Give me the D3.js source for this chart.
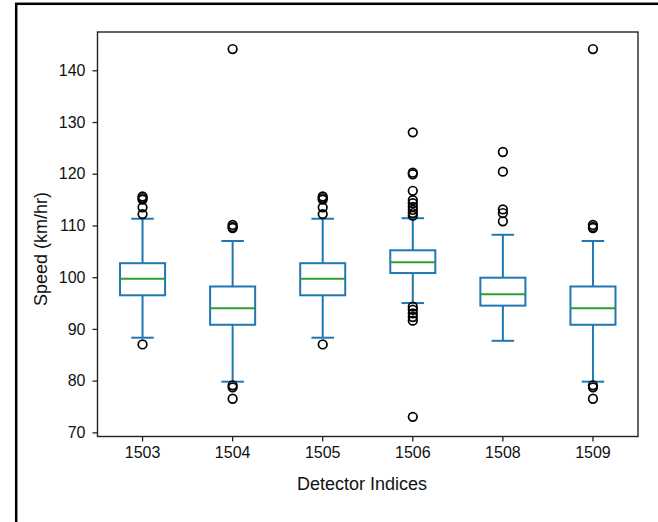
<!DOCTYPE html>
<html>
<head>
<meta charset="utf-8">
<script src="https://cdn.jsdelivr.net/npm/d3@7"></script>
<style>
  html, body { margin: 0; padding: 0; background: #fff; }
  svg { display: block; font-family: "Liberation Sans", Arial, Helvetica, sans-serif; }
</style>
</head>
<body>
<svg id="chart" width="658" height="522"></svg>
<script>
// ---- data ----
const categories = ["1503", "1504", "1505", "1506", "1508", "1509"];
const q1Values      = [96.5, 90.8, 96.5, 100.8, 94.5, 90.8];
const medianValues  = [99.7, 94.0, 99.7, 102.9, 96.7, 94.0];
const q3Values      = [102.7, 98.2, 102.7, 105.2, 99.9, 98.2];
const whiskerLow    = [88.3, 79.8, 88.3, 95.0, 87.7, 79.8];
const whiskerHigh   = [111.3, 107.0, 111.3, 111.4, 108.2, 107.0];
const outlierValues = [
  [115.6, 115.3, 115.0, 113.5, 112.2, 87.0],
  [144.1, 110.1, 109.7, 109.5, 79.1, 78.7, 76.5],
  [115.6, 115.3, 115.0, 113.5, 112.2, 87.0],
  [128.0, 120.2, 119.9, 116.7, 114.9, 114.3, 113.6, 113.0, 112.4, 111.9, 94.3, 93.7, 93.0, 92.3, 91.6, 73.0],
  [124.2, 120.4, 113.1, 112.4, 110.8],
  [144.1, 110.1, 109.7, 109.5, 79.1, 78.7, 76.5]
];
const yTicks = [70, 80, 90, 100, 110, 120, 130, 140];
const yDomain = [69.2, 147.4];
const xLabel = "Detector Indices";
const yLabel = "Speed (km/hr)";

// ---- layout ----
const plot = { left: 97.5, right: 638, top: 32, bottom: 436.5 };
const svg = d3.select("#chart");

// outer frame (extends past right/bottom edges)
svg.append("rect")
  .attr("x", 16.2).attr("y", 3.8)
  .attr("width", 700).attr("height", 600)
  .attr("fill", "none").attr("stroke", "#000").attr("stroke-width", 2.5);

const x = d3.scaleBand().domain(categories).range([plot.left, plot.right]).padding(0);
const y = d3.scaleLinear().domain(yDomain).range([plot.bottom, plot.top]);

const boxData = categories.map((c, i) => ({
  cat: c, q1: q1Values[i], med: medianValues[i], q3: q3Values[i],
  lo: whiskerLow[i], hi: whiskerHigh[i], out: outlierValues[i]
}));

const bw = x.bandwidth();
const boxW = bw * 0.5;
const capW = boxW * 0.5;
const blue = "#1f77b4", green = "#2ca02c";

const g = svg.append("g");
const boxes = g.selectAll("g.box").data(boxData).enter().append("g").attr("class", "box");

const cx = d => x(d.cat) + bw / 2;

// whiskers
boxes.append("line")
  .attr("x1", cx).attr("x2", cx)
  .attr("y1", d => y(d.q3)).attr("y2", d => y(d.hi))
  .attr("stroke", blue).attr("stroke-width", 2);
boxes.append("line")
  .attr("x1", cx).attr("x2", cx)
  .attr("y1", d => y(d.q1)).attr("y2", d => y(d.lo))
  .attr("stroke", blue).attr("stroke-width", 2);
// caps
boxes.append("line")
  .attr("x1", d => cx(d) - capW / 2).attr("x2", d => cx(d) + capW / 2)
  .attr("y1", d => y(d.hi)).attr("y2", d => y(d.hi))
  .attr("stroke", blue).attr("stroke-width", 2);
boxes.append("line")
  .attr("x1", d => cx(d) - capW / 2).attr("x2", d => cx(d) + capW / 2)
  .attr("y1", d => y(d.lo)).attr("y2", d => y(d.lo))
  .attr("stroke", blue).attr("stroke-width", 2);
// box
boxes.append("rect")
  .attr("x", d => cx(d) - boxW / 2).attr("width", boxW)
  .attr("y", d => y(d.q3)).attr("height", d => y(d.q1) - y(d.q3))
  .attr("fill", "none").attr("stroke", blue).attr("stroke-width", 2);
// median
boxes.append("line")
  .attr("x1", d => cx(d) - boxW / 2).attr("x2", d => cx(d) + boxW / 2)
  .attr("y1", d => y(d.med)).attr("y2", d => y(d.med))
  .attr("stroke", green).attr("stroke-width", 2);
// outliers
boxes.each(function (d) {
  d3.select(this).selectAll("circle").data(d.out).enter().append("circle")
    .attr("cx", cx(d)).attr("cy", v => y(v)).attr("r", 4.3)
    .attr("fill", "none").attr("stroke", "#000").attr("stroke-width", 1.7);
});

// axes
const yAxis = d3.axisLeft(y).tickValues(yTicks).tickSize(5).tickPadding(7).tickSizeOuter(0);
const xAxis = d3.axisBottom(x).tickSize(5).tickPadding(5).tickSizeOuter(0);

const ya = svg.append("g").attr("transform", `translate(${plot.left},0)`).call(yAxis);
const xa = svg.append("g").attr("transform", `translate(0,${plot.bottom})`).call(xAxis);
[ya, xa].forEach(a => {
  a.select(".domain").remove();
  a.selectAll(".tick line").attr("stroke", "#222").attr("stroke-width", 1.3);
  a.selectAll(".tick text").attr("fill", "#111").style("font-size", "16px")
    .style("font-family", '"Liberation Sans", Arial, sans-serif');
});

// plot frame (spines)
svg.append("rect")
  .attr("x", plot.left).attr("y", plot.top)
  .attr("width", plot.right - plot.left).attr("height", plot.bottom - plot.top)
  .attr("fill", "none").attr("stroke", "#222").attr("stroke-width", 1.4);

// axis labels
svg.append("text")
  .attr("x", 362).attr("y", 490)
  .attr("text-anchor", "middle").attr("fill", "#111")
  .style("font-size", "18px").text(xLabel);
svg.append("text")
  .attr("transform", "translate(47,249) rotate(-90)")
  .attr("text-anchor", "middle").attr("fill", "#111")
  .style("font-size", "18px").text(yLabel);
</script>
</body>
</html>
